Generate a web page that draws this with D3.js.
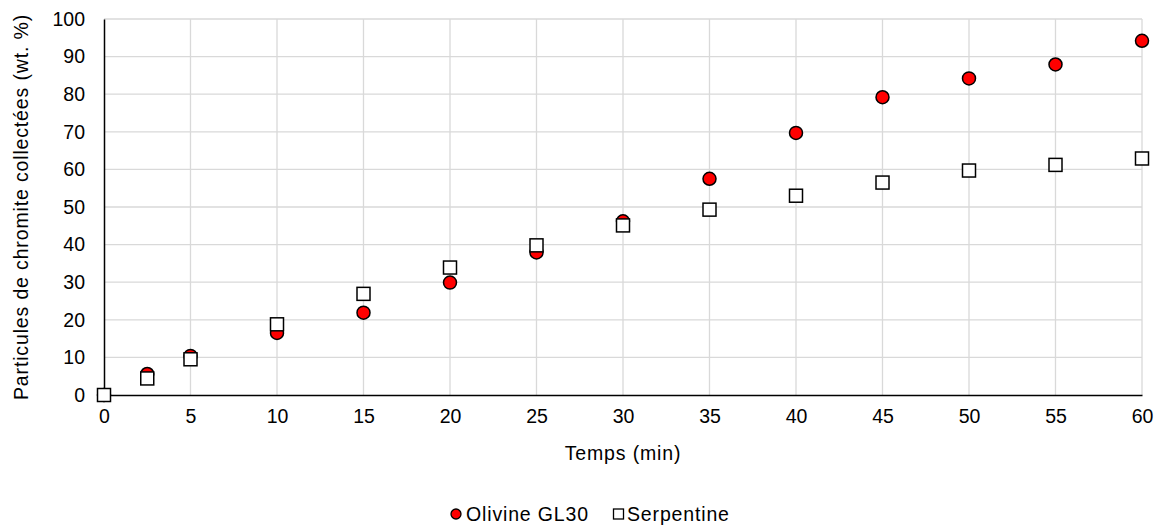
<!DOCTYPE html>
<html>
<head>
<meta charset="utf-8">
<script src="https://cdn.jsdelivr.net/npm/d3@7"></script>
<style>
  body { margin: 0; background: #fff; }
  svg text { font-family: "Liberation Sans", Arial, sans-serif; fill: #000; }
</style>
</head>
<body>
<div id="chart"></div>
<script>
// Données
const temps = [0, 2.5, 5, 10, 15, 20, 25, 30, 35, 40, 45, 50, 55, 60];
const olivine = [0, 5.6, 10.4, 16.5, 21.9, 29.9, 37.9, 46.2, 57.5, 69.7, 79.2, 84.2, 87.9, 94.2];
const serpentine = [0, 4.4, 9.5, 18.8, 26.9, 33.9, 39.8, 45.1, 49.3, 53.0, 56.5, 59.7, 61.2, 62.9];
const xTicks = [0, 5, 10, 15, 20, 25, 30, 35, 40, 45, 50, 55, 60];
const yTicks = [0, 10, 20, 30, 40, 50, 60, 70, 80, 90, 100];

const W = 1162, H = 526;
const MARGIN = { top: 19, right: 20, bottom: 131, left: 104 };
const FONT = 19.5;
const SPACING = "0.85px"; // textes un peu plus larges que Liberation Sans

const svg = d3.select("#chart").append("svg")
    .attr("width", W)
    .attr("height", H);

const x = d3.scaleLinear().domain([0, 60]).range([MARGIN.left, 1142]);
const y = d3.scaleLinear().domain([0, 100]).range([H - MARGIN.bottom, MARGIN.top]);

// Grille
svg.append("g")
    .selectAll("line")
    .data(yTicks.slice(1))
    .join("line")
    .attr("x1", x(0)).attr("x2", x(60))
    .attr("y1", d => y(d)).attr("y2", d => y(d))
    .attr("stroke", "#d9d9d9").attr("stroke-width", 1.3);

svg.append("g")
    .selectAll("line")
    .data(xTicks.slice(1))
    .join("line")
    .attr("x1", d => x(d)).attr("x2", d => x(d))
    .attr("y1", y(0)).attr("y2", y(100))
    .attr("stroke", "#d9d9d9").attr("stroke-width", 1.3);

// Axes
const xAxis = d3.axisBottom(x).tickValues(xTicks).tickSize(0).tickPadding(14);
const gx = svg.append("g")
    .attr("transform", `translate(0,${y(0)})`)
    .call(xAxis);
gx.select(".domain").attr("stroke", "#000").attr("stroke-width", 1.5);
gx.selectAll("text").attr("font-size", FONT).attr("font-family", "Liberation Sans, Arial, sans-serif");

const yAxis = d3.axisLeft(y).tickValues(yTicks).tickSize(0).tickPadding(19);
const gy = svg.append("g")
    .attr("transform", `translate(${x(0)},0)`)
    .call(yAxis);
gy.select(".domain").attr("stroke", "#000").attr("stroke-width", 1.5);
gy.selectAll("text").attr("font-size", FONT).attr("font-family", "Liberation Sans, Arial, sans-serif");

// Titres d'axes
svg.append("text")
    .attr("x", (x(0) + x(60)) / 2)
    .attr("y", 460)
    .attr("text-anchor", "middle")
    .attr("font-size", FONT)
    .style("letter-spacing", SPACING)
    .text("Temps (min)");

svg.append("text")
    .attr("transform", "rotate(-90)")
    .attr("x", -(y(0) + y(100)) / 2)
    .attr("y", 28)
    .attr("text-anchor", "middle")
    .attr("font-size", FONT)
    .style("letter-spacing", SPACING)
    .text("Particules de chromite collectées (wt. %)");

// Points
const olivinePts = temps.map((t, i) => ({ t, v: olivine[i] }));
const serpPts = temps.map((t, i) => ({ t, v: serpentine[i] }));

svg.append("g")
    .selectAll("circle")
    .data(olivinePts)
    .join("circle")
    .attr("cx", d => x(d.t))
    .attr("cy", d => y(d.v))
    .attr("r", 6.5)
    .attr("fill", "#ff0000")
    .attr("stroke", "#000")
    .attr("stroke-width", 1.5);

const sq = 13;
svg.append("g")
    .selectAll("rect")
    .data(serpPts)
    .join("rect")
    .attr("x", d => x(d.t) - sq / 2)
    .attr("y", d => y(d.v) - sq / 2)
    .attr("width", sq)
    .attr("height", sq)
    .attr("fill", "#fff")
    .attr("stroke", "#000")
    .attr("stroke-width", 1.5);

// Légende
const legY = 514;
svg.append("circle")
    .attr("cx", 456).attr("cy", legY)
    .attr("r", 5)
    .attr("fill", "#ff0000")
    .attr("stroke", "#000")
    .attr("stroke-width", 1.3);
svg.append("text")
    .attr("x", 466).attr("y", legY + 7)
    .attr("font-size", FONT)
    .style("letter-spacing", SPACING)
    .text("Olivine GL30");

svg.append("rect")
    .attr("x", 613.5).attr("y", legY - 5)
    .attr("width", 10).attr("height", 10)
    .attr("fill", "#fff")
    .attr("stroke", "#000")
    .attr("stroke-width", 1.3);
svg.append("text")
    .attr("x", 627).attr("y", legY + 7)
    .attr("font-size", FONT)
    .style("letter-spacing", SPACING)
    .text("Serpentine");
</script>
</body>
</html>
